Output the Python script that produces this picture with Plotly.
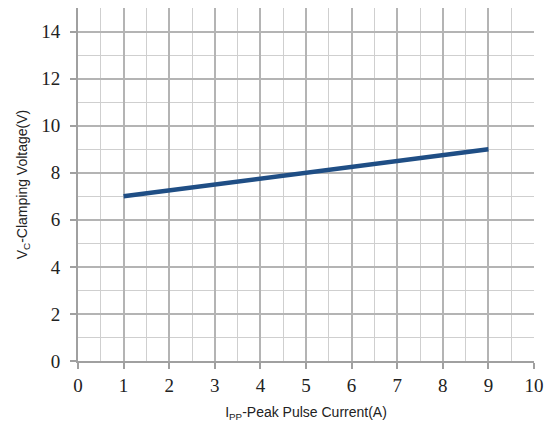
import plotly.graph_objects as go

current_a = [1, 9]
voltage_v = [7, 9]

x_ticks = list(range(0, 11))
y_ticks = list(range(0, 15, 2))

fig = go.Figure()
fig.add_trace(go.Scatter(x=current_a, y=voltage_v, mode="lines",
                         line=dict(color="#1f4e85", width=4.5), showlegend=False))

major = "#b4b4b4"
minor = "#cfcfcf"
tick_font = dict(family="Liberation Serif", size=19, color="#222")

axis_common = dict(showgrid=True, gridcolor=major, gridwidth=1.5,
                   showline=True, linecolor="#a0a0a0", linewidth=2, mirror=False,
                   ticks="outside", ticklen=6, tickcolor="#a0a0a0", tickwidth=2,
                   tickfont=tick_font, zeroline=False)

fig.update_layout(
    width=554, height=426, margin=dict(l=78, r=20, t=8, b=65),
    paper_bgcolor="white", plot_bgcolor="white",
    xaxis=dict(range=[0, 10], tickvals=x_ticks,
               minor=dict(dtick=0.5, showgrid=True, gridcolor=minor, gridwidth=1.3),
               title=dict(text="I<sub>PP</sub>-Peak Pulse Current(A)",
                          font=dict(family="Liberation Sans", size=14, color="#222"), standoff=12),
               **axis_common),
    yaxis=dict(range=[0, 15], tickvals=y_ticks, ticklabelstandoff=6,
               minor=dict(dtick=1, showgrid=True, gridcolor=minor, gridwidth=1.3),
               title=dict(text="V<sub>C</sub>-Clamping Voltage(V)",
                          font=dict(family="Liberation Sans", size=14, color="#222"), standoff=10),
               **axis_common),
)
fig.write_html("out.html")
